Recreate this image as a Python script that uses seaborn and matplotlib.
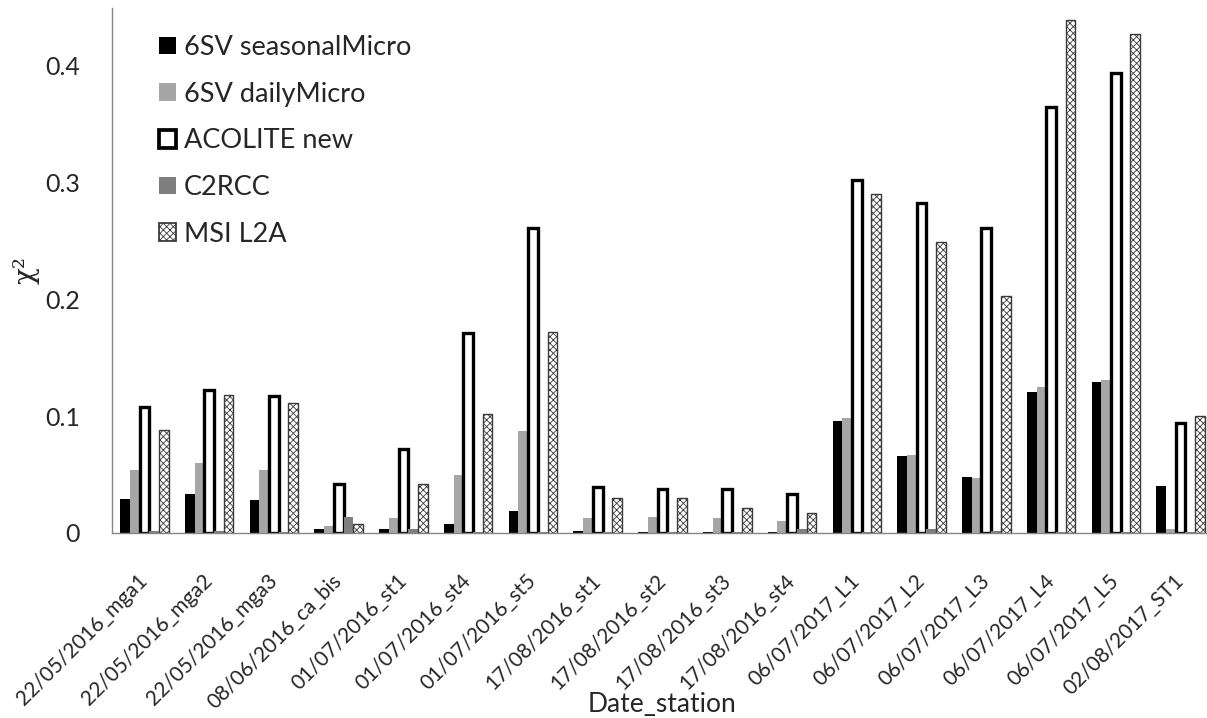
import matplotlib
matplotlib.use("Agg")
import matplotlib.pyplot as plt
import matplotlib.transforms as mtransforms
import seaborn as sns
import pandas as pd
from matplotlib.patches import Patch

stations = ["22/05/2016_mga1", "22/05/2016_mga2", "22/05/2016_mga3", "08/06/2016_ca_bis",
            "01/07/2016_st1", "01/07/2016_st4", "01/07/2016_st5", "17/08/2016_st1",
            "17/08/2016_st2", "17/08/2016_st3", "17/08/2016_st4", "06/07/2017_L1",
            "06/07/2017_L2", "06/07/2017_L3", "06/07/2017_L4", "06/07/2017_L5",
            "02/08/2017_ST1"]
series = ["6SV seasonalMicro", "6SV dailyMicro", "ACOLITE new", "C2RCC", "MSI L2A"]

seasonal = [0.029, 0.033, 0.028, 0.003, 0.003, 0.008, 0.019, 0.0015, 0.0005, 0.0005, 0.0005,
            0.096, 0.066, 0.048, 0.121, 0.129, 0.040]
daily = [0.054, 0.060, 0.054, 0.006, 0.0125, 0.050, 0.087, 0.013, 0.0137, 0.0128, 0.0103,
         0.098, 0.067, 0.047, 0.125, 0.131, 0.003]
acolite = [0.108, 0.122, 0.117, 0.0415, 0.072, 0.171, 0.261, 0.0395, 0.038, 0.0375, 0.0333,
           0.302, 0.282, 0.261, 0.364, 0.393, 0.094]
c2rcc = [0.002, 0.002, 0.001, 0.014, 0.0034, 0.001, 0.0008, 0.0005, 0.001, 0.001, 0.003,
         0.001, 0.003, 0.002, 0.001, 0.001, 0.001]
msi = [0.0885, 0.118, 0.111, 0.0077, 0.0415, 0.102, 0.172, 0.030, 0.030, 0.0214, 0.0174,
       0.290, 0.249, 0.203, 0.439, 0.427, 0.100]

values = [seasonal, daily, acolite, c2rcc, msi]
rows = []
for s, vals in zip(series, values):
    for st, v in zip(stations, vals):
        rows.append({"Date_station": st, "series": s, "chi2": v})
df = pd.DataFrame(rows)

sns.set_theme(style="white")
plt.rcParams["font.family"] = ["Lato", "DejaVu Sans"]
plt.rcParams["hatch.linewidth"] = 0.6

fig = plt.figure(figsize=(12.07, 7.18), dpi=100)
ax = fig.add_axes([112 / 1207, 185 / 718, 1101 / 1207, 525 / 718])

palette = {"6SV seasonalMicro": "#000000", "6SV dailyMicro": "#a6a6a6",
           "ACOLITE new": "#ffffff", "C2RCC": "#7f7f7f", "MSI L2A": "#ffffff"}
sns.barplot(data=df, x="Date_station", y="chi2", hue="series", order=stations,
            hue_order=series, palette=palette, width=0.75, saturation=1,
            legend=False, ax=ax, errorbar=None)

styles = {
    "6SV seasonalMicro": dict(facecolor="#000000", edgecolor="#000000", linewidth=0, hatch=None),
    "6SV dailyMicro": dict(facecolor="#a6a6a6", edgecolor="#a6a6a6", linewidth=0, hatch=None),
    "ACOLITE new": dict(facecolor="#ffffff", edgecolor="#000000", linewidth=2.4, hatch=None),
    "C2RCC": dict(facecolor="#7f7f7f", edgecolor="#7f7f7f", linewidth=0, hatch=None),
    "MSI L2A": dict(facecolor="#ffffff", edgecolor="#3a3a3a", linewidth=1.0, hatch="xxxxx"),
}
for cont, s in zip(ax.containers, series):
    st = styles[s]
    for p in cont.patches:
        p.set_facecolor(st["facecolor"])
        p.set_edgecolor(st["edgecolor"])
        p.set_linewidth(st["linewidth"])
        if st["hatch"]:
            p.set_hatch(st["hatch"])

ax.set_ylim(0, 0.449)
ax.set_xlim(-0.5, len(stations) - 0.5)
ax.set_yticks([0, 0.1, 0.2, 0.3, 0.4])
ax.set_yticklabels(["0", "0.1", "0.2", "0.3", "0.4"], fontsize=18)
ax.set_xticks(range(len(stations)))
ax.set_xticklabels(stations, rotation=45, ha="right", va="center",
                   rotation_mode="anchor", fontsize=15)
offset = mtransforms.ScaledTranslation(6 / 100, 0, fig.dpi_scale_trans)
for lbl in ax.get_xticklabels():
    lbl.set_transform(lbl.get_transform() + offset)
ax.set_xticks([i - 0.5 for i in range(len(stations) + 1)], minor=True)
ax.tick_params(axis="x", which="major", length=0, pad=32)
ax.tick_params(axis="x", which="minor", length=8, color="#868686", width=1, direction="out")
ax.tick_params(axis="y", which="major", length=9, color="#868686", width=1, direction="out", pad=14)

for side in ["top", "right"]:
    ax.spines[side].set_visible(False)
for side in ["left", "bottom"]:
    ax.spines[side].set_color("#868686")
    ax.spines[side].set_linewidth(1)

ax.set_xlabel("Date_station", fontsize=19)
ax.xaxis.set_label_coords((662 - 112) / 1101, (533 - 705) / 525)
ax.xaxis.label.set_va("center")
ax.set_ylabel("χ²", fontsize=20, family=["DejaVu Serif"])
ax.yaxis.set_label_coords((40 - 112) / 1101, (533 - 270) / 525)

handles = []
for s in series:
    st = styles[s]
    if s in ("ACOLITE new", "MSI L2A"):
        handles.append(Patch(facecolor=st["facecolor"], edgecolor=st["edgecolor"],
                             linewidth=st["linewidth"] + 0.3, hatch=st["hatch"]))
    else:
        handles.append(Patch(facecolor=st["facecolor"], edgecolor="none", linewidth=0))
leg = fig.legend(handles, series, loc="upper left", bbox_to_anchor=(159 / 1207, 1 - 35 / 718),
                 frameon=False, fontsize=19.5, handlelength=0.62, handleheight=0.62,
                 labelspacing=0.8, handletextpad=0.3, borderaxespad=0, borderpad=0)

fig.savefig("out.png", dpi=100)
